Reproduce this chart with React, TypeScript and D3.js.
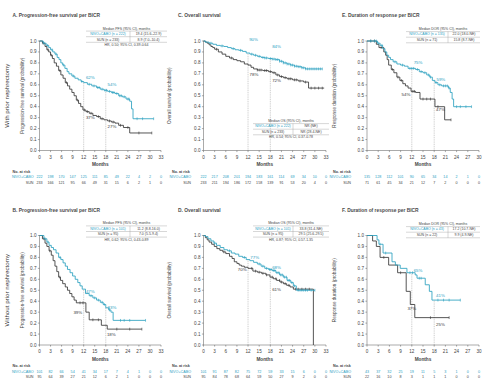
import React from "react";
import * as d3 from "d3";

const TEAL = "#2aa0bf";
const GRAY = "#383838";
const FONT = "'Liberation Sans', Arial, sans-serif";

// ---------- shared ticks ----------
const monthTicks33 = [0, 3, 6, 9, 12, 15, 18, 21, 24, 27, 30, 33];
const monthTicks30 = [0, 3, 6, 9, 12, 15, 18, 21, 24, 27, 30];
const probTicks = [0, 0.1, 0.2, 0.3, 0.4, 0.5, 0.6, 0.7, 0.8, 0.9, 1.0];
const landmarkMonths = [12, 18];

// ---------- Panel A: PFS, with prior nephrectomy ----------
const aNivoT = [0, 1, 1.8, 2.5, 3.0, 3.6, 4.2, 4.8, 5.3, 5.8, 6.3, 6.9, 7.5, 8.0, 8.8, 9.6, 10.5, 11.3, 12.0, 13.0, 14.2, 15.5, 16.5, 17.5, 18.5, 19.5, 20.5, 21.5, 22.5, 23.5, 24.5, 25.0, 25.4];
const aNivoS = [1.0, 0.98, 0.96, 0.94, 0.92, 0.90, 0.88, 0.85, 0.83, 0.80, 0.78, 0.75, 0.72, 0.70, 0.68, 0.66, 0.645, 0.63, 0.62, 0.605, 0.59, 0.575, 0.56, 0.55, 0.54, 0.53, 0.52, 0.50, 0.49, 0.47, 0.45, 0.38, 0.29];
const aNivoEnd = 31;
const aNivoCens = [1.2, 2.2, 3.4, 4.5, 6.5, 9.2, 11.5, 13.5, 14.8, 15.8, 16.2, 17.0, 17.8, 18.2, 19.0, 19.8, 20.2, 21.0, 21.8, 22.2, 23.0, 24.0, 24.3, 26.5, 28.0, 31.0];
const aSunT = [0, 0.8, 1.5, 2.0, 2.5, 3.0, 3.5, 4.0, 4.6, 5.2, 5.8, 6.4, 7.0, 7.6, 8.2, 8.8, 9.4, 10.0, 10.6, 11.2, 11.8, 12.6, 13.5, 14.5, 15.5, 16.5, 17.5, 18.5, 19.5, 20.5, 21.5, 22.8, 24.5];
const aSunS = [1.0, 0.98, 0.95, 0.92, 0.90, 0.87, 0.84, 0.80, 0.77, 0.73, 0.69, 0.66, 0.62, 0.59, 0.56, 0.53, 0.50, 0.46, 0.43, 0.40, 0.37, 0.355, 0.34, 0.32, 0.31, 0.29, 0.28, 0.27, 0.26, 0.25, 0.23, 0.21, 0.16];
const aSunEnd = 30.5;
const aSunCens = [1.0, 2.3, 3.2, 5.5, 7.3, 10.3, 12.2, 13.0, 14.0, 16.0, 17.0, 19.0, 20.0, 22.0, 24.0, 27.0, 30.5];
const aRiskNivo = [222, 198, 170, 147, 125, 111, 85, 49, 22, 4, 2, 0];
const aRiskSun = [233, 166, 121, 95, 66, 49, 31, 15, 6, 2, 1, 0];
const aPct = ["62%", "54%", "37%", "27%"];
const aTableHeader = "Median PFS (95% CI), months";
const aTableRows = [["NIVO+CABO (n = 222)", "19.4 (15.6–22.9)"], ["SUN (n = 233)", "8.9 (7.0–10.4)"]];
const aTableHR = "HR, 0.50; 95% CI, 0.39-0.64";

// ---------- Panel C: OS, with prior nephrectomy ----------
const cNivoT = [0, 0.5, 1.5, 2.5, 3.5, 4.5, 5.5, 6.5, 7.5, 8.5, 9.5, 10.5, 11.5, 12.5, 13.5, 14.5, 15.5, 16.5, 17.5, 18.5, 19.5, 20.5, 21.5, 22.5, 23.5, 24.5, 25.5, 26.5, 27.5];
const cNivoS = [1.0, 0.99, 0.98, 0.97, 0.96, 0.955, 0.95, 0.94, 0.93, 0.92, 0.915, 0.905, 0.89, 0.88, 0.87, 0.86, 0.85, 0.845, 0.84, 0.835, 0.83, 0.815, 0.80, 0.79, 0.78, 0.77, 0.765, 0.755, 0.745];
const cNivoEnd = 32;
const cNivoCens = [2, 5, 8, 10, 13, 14, 15, 16, 16.5, 17, 18, 18.5, 19, 19.5, 20, 20.5, 21, 21.5, 22, 22.5, 23, 23.5, 24, 24.5, 25, 25.5, 26, 26.5, 27, 27.5, 28, 28.5, 29, 29.5, 30, 30.5, 31, 31.5, 32];
const cSunT = [0, 0.5, 1.0, 1.5, 2.0, 2.5, 3.0, 4.0, 5.0, 6.0, 7.0, 8.0, 9.0, 10.0, 11.0, 12.0, 12.8, 13.5, 14.5, 16.0, 17.5, 18.5, 19.5, 20.5, 21.5, 22.5, 24.0, 25.5, 27.0, 28.3];
const cSunS = [1.0, 0.99, 0.98, 0.965, 0.95, 0.94, 0.925, 0.9, 0.88, 0.86, 0.845, 0.83, 0.82, 0.81, 0.79, 0.78, 0.76, 0.745, 0.735, 0.73, 0.72, 0.71, 0.69, 0.675, 0.665, 0.655, 0.645, 0.635, 0.625, 0.57];
const cSunEnd = 32.5;
const cSunCens = [3.5, 7.5, 14.5, 15, 15.5, 16.5, 17, 18, 19, 20, 21, 22, 23, 23.5, 24.5, 25, 26, 27.5, 29, 30, 31, 32];
const cRiskNivo = [222, 217, 208, 201, 194, 183, 161, 114, 69, 34, 10, 0];
const cRiskSun = [233, 211, 194, 186, 172, 158, 139, 91, 53, 20, 4, 0];
const cPct = ["90%", "84%", "78%", "72%"];
const cTableHeader = "Median OS (95% CI), months";
const cTableRows = [["NIVO+CABO (n = 222)", "NR (NE)"], ["SUN (n = 233)", "NR (28.4-NE)"]];
const cTableHR = "HR, 0.54; 95% CI, 0.37-0.78";

// ---------- Panel E: DOR, with prior nephrectomy ----------
const eNivoT = [0, 2.8, 3.5, 4.2, 4.8, 5.3, 5.8, 6.3, 7.0, 8.0, 9.0, 10.0, 11.0, 13.0, 14.0, 15.0, 16.0, 16.8, 17.5, 18.2, 19.0, 20.0, 21.8, 22.3, 22.8, 23.2];
const eNivoS = [1.0, 0.98, 0.96, 0.93, 0.90, 0.87, 0.85, 0.83, 0.81, 0.79, 0.78, 0.77, 0.75, 0.74, 0.72, 0.71, 0.69, 0.67, 0.64, 0.62, 0.60, 0.59, 0.57, 0.53, 0.47, 0.40];
const eNivoEnd = 28;
const eNivoCens = [1, 2, 2.5, 3, 4, 7.5, 9.5, 11.5, 12, 12.5, 13.5, 14.5, 15.5, 16.5, 17, 18.5, 19.5, 20.5, 21, 21.5, 22, 24, 25, 26.5, 28];
const eSunT = [0, 2.5, 3.2, 4.5, 5.0, 5.4, 5.8, 6.5, 7.2, 8.0, 8.8, 9.6, 10.3, 11.0, 11.8, 13.0, 14.2, 18.2, 20.8];
const eSunS = [1.0, 0.97, 0.94, 0.90, 0.87, 0.83, 0.78, 0.74, 0.71, 0.67, 0.64, 0.61, 0.59, 0.57, 0.54, 0.53, 0.47, 0.40, 0.28];
const eSunEnd = 22.5;
const eSunCens = [1, 2, 3.8, 6.8, 8.3, 9.2, 12.3, 12.7, 15, 16, 17, 19, 22.5];
const eRiskNivo = [135, 128, 112, 101, 90, 65, 34, 14, 2, 1, 0];
const eRiskSun = [71, 61, 45, 34, 21, 12, 7, 2, 0, 0, 0];
const ePct = ["75%", "59%", "54%", "47%"];
const eTableHeader = "Median DOR (95% CI), months";
const eTableRows = [["NIVO+CABO (n = 135)", "22.0 (18.0-NE)"], ["SUN (n = 71)", "15.8 (8.7-NE)"]];

// ---------- Panel B: PFS, without prior nephrectomy ----------
const bNivoT = [0, 1.2, 2.0, 2.6, 3.2, 3.8, 4.5, 5.2, 5.8, 6.4, 7.0, 7.6, 8.3, 9.0, 9.7, 10.4, 11.0, 11.6, 12.5, 13.5, 14.5, 15.5, 16.5, 17.3, 18.0, 18.8, 19.4, 20.0];
const bNivoS = [1.0, 0.97, 0.94, 0.91, 0.89, 0.87, 0.84, 0.80, 0.78, 0.75, 0.72, 0.69, 0.66, 0.63, 0.60, 0.57, 0.54, 0.51, 0.47, 0.45, 0.43, 0.41, 0.39, 0.37, 0.34, 0.32, 0.30, 0.225];
const bNivoEnd = 28.8;
const bNivoCens = [1.5, 2.3, 5.6, 14, 15, 16, 17, 17.6, 19, 22, 23, 24.5, 28.8];
const bSunT = [0, 0.8, 1.5, 2.0, 2.6, 3.2, 3.7, 4.2, 4.7, 5.2, 5.7, 6.3, 7.0, 7.6, 8.2, 8.8, 9.4, 10.0, 12.6, 13.5, 16.8, 18.4];
const bSunS = [1.0, 0.97, 0.93, 0.90, 0.86, 0.82, 0.77, 0.72, 0.67, 0.62, 0.59, 0.56, 0.53, 0.50, 0.47, 0.44, 0.41, 0.385, 0.30, 0.23, 0.18, 0.145];
const bSunEnd = 27.8;
const bSunCens = [1.2, 2.8, 5.5, 11, 11.8, 14.5, 16, 21, 24.5, 27.8];
const bRiskNivo = [101, 82, 66, 54, 41, 34, 17, 7, 4, 1, 0, 0];
const bRiskSun = [95, 64, 39, 27, 21, 12, 6, 2, 1, 0, 0, 0];
const bPct = ["47%", "33%", "39%", "18%"];
const bTableHeader = "Median PFS (95% CI), months";
const bTableRows = [["NIVO+CABO (n = 101)", "11.2 (8.8-16.0)"], ["SUN (n = 95)", "7.0 (5.5-9.4)"]];
const bTableHR = "HR, 0.62; 95% CI, 0.43-0.89";

// ---------- Panel D: OS, without prior nephrectomy ----------
const dNivoT = [0, 0.5, 1.2, 2.0, 2.8, 3.5, 4.5, 5.5, 6.5, 7.5, 8.5, 9.5, 10.5, 11.5, 12.5, 13.5, 14.5, 15.5, 16.5, 17.5, 18.5, 19.5, 20.5, 21.5, 22.5, 23.5, 24.2, 25.0];
const dNivoS = [1.0, 0.99, 0.97, 0.95, 0.93, 0.91, 0.89, 0.87, 0.86, 0.84, 0.83, 0.81, 0.80, 0.78, 0.77, 0.755, 0.74, 0.72, 0.70, 0.69, 0.68, 0.66, 0.64, 0.62, 0.59, 0.57, 0.54, 0.50];
const dNivoEnd = 30;
const dNivoCens = [3, 7, 11, 15, 16, 17, 17.8, 18.2, 18.8, 19.2, 19.8, 20.3, 20.8, 21.2, 21.8, 22.3, 22.8, 23.2, 23.8, 24.5, 25.5, 26, 26.5, 27, 27.5, 28, 29, 30];
const dSunT = [0, 0.5, 1.0, 1.5, 2.2, 2.9, 3.6, 4.4, 5.2, 6.0, 7.0, 7.7, 8.3, 9.0, 9.6, 10.2, 11.0, 12.0, 13.3, 14.5, 15.6, 16.8, 17.9, 18.8, 19.7, 20.6, 21.5, 22.4, 23.3, 24.2, 29.6];
const dSunS = [1.0, 0.98, 0.96, 0.94, 0.92, 0.90, 0.88, 0.865, 0.85, 0.835, 0.81, 0.79, 0.76, 0.745, 0.73, 0.72, 0.71, 0.70, 0.675, 0.665, 0.655, 0.64, 0.62, 0.605, 0.59, 0.575, 0.56, 0.545, 0.53, 0.51, 0.0];
const dSunEnd = 29.6;
const dSunCens = [5.5, 13, 14, 15, 16, 17, 18.5, 19.5, 20.5, 21, 22, 23, 24.8, 25.5, 26.5, 27.5, 28.5];
const dRiskNivo = [101, 91, 87, 82, 75, 72, 59, 33, 15, 6, 0, 0];
const dRiskSun = [95, 84, 78, 68, 64, 59, 50, 27, 9, 2, 0, 0];
const dPct = ["77%", "68%", "70%", "61%"];
const dTableHeader = "Median OS (95% CI), months";
const dTableRows = [["NIVO+CABO (n = 101)", "33.8 (31.4-NE)"], ["SUN (n = 95)", "29.5 (25.6-29.5)"]];
const dTableHR = "HR, 0.87; 95% CI, 0.57-1.35";

// ---------- Panel F: DOR, without prior nephrectomy ----------
const fNivoT = [0, 2.7, 3.2, 4.3, 6.7, 7.6, 8.9, 10.7, 12.9, 13.4, 15.6, 16.7, 17.4];
const fNivoS = [1.0, 0.96, 0.92, 0.84, 0.76, 0.73, 0.70, 0.66, 0.64, 0.61, 0.55, 0.49, 0.41];
const fNivoEnd = 25;
const fNivoCens = [3.5, 5, 11.5, 12.2, 14, 14.5, 19, 20.5, 22, 25];
const fSunT = [0, 1.5, 2.5, 3.5, 5.8, 8.2, 10.5, 11.6, 12.8];
const fSunS = [1.0, 0.95, 0.90, 0.80, 0.73, 0.66, 0.49, 0.37, 0.25];
const fSunEnd = 22;
const fSunCens = [4.5, 9, 17, 22];
const fRiskNivo = [43, 37, 32, 25, 19, 11, 5, 3, 1, 0, 0];
const fRiskSun = [22, 16, 10, 8, 3, 1, 1, 1, 0, 0, 0];
const fPct = ["65%", "41%", "37%", "25%"];
const fTableHeader = "Median DOR (95% CI), months";
const fTableRows = [["NIVO+CABO (n = 43)", "17.2 (10.7-NE)"], ["SUN (n = 22)", "9.9 (4.9-NE)"]];

// ---------- layout ----------
const COLS = [
  { x0: 39.5, x1: 161, titleX: 12.5, ylabX: 22.5, riskLbl: 33.5, noRisk: 12.5 },
  { x0: 203.5, x1: 326, titleX: 178, ylabX: 169.5, riskLbl: 191, noRisk: 172 },
  { x0: 367, x1: 479, titleX: 342, ylabX: 334, riskLbl: 351, noRisk: 333 },
];
const ROWS = [
  { yTop: 41, yBot: 150.5, titleY: 15.5, side: "With prior nephrectomy" },
  { yTop: 235.5, yBot: 345, titleY: 210, side: "Without prior nephrectomy" },
];

type Curve = { t: number[]; s: number[]; end: number; cens: number[] };
type Pct = { text: string; m: number; p: number; color: string; anchor: string };
type Table = { header: string; rows: string[][]; hr?: string; x: number; w: number; sep: number; y: number };
type PanelDef = {
  col: number; row: number; title: string; ylabel: string; maxM: number; ticks: number[];
  nivo: Curve; sun: Curve; riskNivo: number[]; riskSun: number[]; table: Table; pct: Pct[];
};

const survAt = (c: Curve, x: number) => {
  let v = c.s[0];
  for (let i = 0; i < c.t.length; i++) if (c.t[i] <= x) v = c.s[i];
  return v;
};

const PANELS: PanelDef[] = [
  {
    col: 0, row: 0, title: "A. Progression-free survival per BICR", ylabel: "Progression-free survival (probability)",
    maxM: 33, ticks: monthTicks33,
    nivo: { t: aNivoT, s: aNivoS, end: aNivoEnd, cens: aNivoCens },
    sun: { t: aSunT, s: aSunS, end: aSunEnd, cens: aSunCens },
    riskNivo: aRiskNivo, riskSun: aRiskSun,
    table: { header: aTableHeader, rows: aTableRows, hr: aTableHR, x: 86, w: 81, sep: 130, y: 28.5 },
    pct: [
      { text: aPct[0], m: 12.6, p: 0.665, color: TEAL, anchor: "start" },
      { text: aPct[1], m: 18.5, p: 0.6, color: TEAL, anchor: "start" },
      { text: aPct[2], m: 12.6, p: 0.3, color: GRAY, anchor: "start" },
      { text: aPct[3], m: 18.5, p: 0.22, color: GRAY, anchor: "start" },
    ],
  },
  {
    col: 1, row: 0, title: "C. Overall survival", ylabel: "Overall survival (probability)",
    maxM: 33, ticks: monthTicks33,
    nivo: { t: cNivoT, s: cNivoS, end: cNivoEnd, cens: cNivoCens },
    sun: { t: cSunT, s: cSunS, end: cSunEnd, cens: cSunCens },
    riskNivo: cRiskNivo, riskSun: cRiskSun,
    table: { header: cTableHeader, rows: cTableRows, hr: cTableHR, x: 253, w: 76, sep: 293, y: 121 },
    pct: [
      { text: cPct[0], m: 12.3, p: 1.015, color: TEAL, anchor: "start" },
      { text: cPct[1], m: 18.5, p: 0.95, color: TEAL, anchor: "start" },
      { text: cPct[2], m: 12.4, p: 0.695, color: GRAY, anchor: "start" },
      { text: cPct[3], m: 18.5, p: 0.64, color: GRAY, anchor: "start" },
    ],
  },
  {
    col: 2, row: 0, title: "E. Duration of response per BICR", ylabel: "Response duration (probability)",
    maxM: 30, ticks: monthTicks30,
    nivo: { t: eNivoT, s: eNivoS, end: eNivoEnd, cens: eNivoCens },
    sun: { t: eSunT, s: eSunS, end: eSunEnd, cens: eSunCens },
    riskNivo: eRiskNivo, riskSun: eRiskSun,
    table: { header: eTableHeader, rows: eTableRows, x: 406, w: 74, sep: 448, y: 29 },
    pct: [
      { text: ePct[0], m: 12.5, p: 0.8, color: TEAL, anchor: "start" },
      { text: ePct[1], m: 18.6, p: 0.65, color: TEAL, anchor: "start" },
      { text: ePct[2], m: 11.6, p: 0.51, color: GRAY, anchor: "end" },
      { text: ePct[3], m: 18.5, p: 0.375, color: GRAY, anchor: "start" },
    ],
  },
  {
    col: 0, row: 1, title: "B. Progression-free survival per BICR", ylabel: "Progression-free survival (probability)",
    maxM: 33, ticks: monthTicks33,
    nivo: { t: bNivoT, s: bNivoS, end: bNivoEnd, cens: bNivoCens },
    sun: { t: bSunT, s: bSunS, end: bSunEnd, cens: bSunCens },
    riskNivo: bRiskNivo, riskSun: bRiskSun,
    table: { header: bTableHeader, rows: bTableRows, hr: bTableHR, x: 86, w: 81, sep: 130, y: 223.3 },
    pct: [
      { text: bPct[0], m: 12.6, p: 0.49, color: TEAL, anchor: "start" },
      { text: bPct[1], m: 18.5, p: 0.345, color: TEAL, anchor: "start" },
      { text: bPct[2], m: 11.6, p: 0.3, color: GRAY, anchor: "end" },
      { text: bPct[3], m: 18.3, p: 0.1, color: GRAY, anchor: "start" },
    ],
  },
  {
    col: 1, row: 1, title: "D. Overall survival", ylabel: "Overall survival (probability)",
    maxM: 33, ticks: monthTicks33,
    nivo: { t: dNivoT, s: dNivoS, end: dNivoEnd, cens: dNivoCens },
    sun: { t: dSunT, s: dSunS, end: dSunEnd, cens: dSunCens },
    riskNivo: dRiskNivo, riskSun: dRiskSun,
    table: { header: dTableHeader, rows: dTableRows, hr: dTableHR, x: 253, w: 76, sep: 293, y: 223.3 },
    pct: [
      { text: dPct[0], m: 12.6, p: 0.8, color: TEAL, anchor: "start" },
      { text: dPct[1], m: 18.5, p: 0.71, color: TEAL, anchor: "start" },
      { text: dPct[2], m: 11.6, p: 0.685, color: GRAY, anchor: "end" },
      { text: dPct[3], m: 18.5, p: 0.51, color: GRAY, anchor: "start" },
    ],
  },
  {
    col: 2, row: 1, title: "F. Duration of response per BICR", ylabel: "Response duration (probability)",
    maxM: 30, ticks: monthTicks30,
    nivo: { t: fNivoT, s: fNivoS, end: fNivoEnd, cens: fNivoCens },
    sun: { t: fSunT, s: fSunS, end: fSunEnd, cens: fSunCens },
    riskNivo: fRiskNivo, riskSun: fRiskSun,
    table: { header: fTableHeader, rows: fTableRows, x: 406, w: 74, sep: 448, y: 224 },
    pct: [
      { text: fPct[0], m: 12.5, p: 0.68, color: TEAL, anchor: "start" },
      { text: fPct[1], m: 18.5, p: 0.45, color: TEAL, anchor: "start" },
      { text: fPct[2], m: 12, p: 0.33, color: GRAY, anchor: "middle" },
      { text: fPct[3], m: 18.5, p: 0.19, color: GRAY, anchor: "start" },
    ],
  },
];

const TableView = ({ tb }: { tb: Table }) => {
  const fs = 3.5;
  const leftC = (tb.x + tb.sep) / 2;
  const rightC = (tb.sep + tb.x + tb.w) / 2;
  const y = tb.y;
  const lineC = "#9a9a9a";
  return (
    <g fontFamily={FONT} fontSize={fs} dominantBaseline="central">
      <text x={tb.x + tb.w / 2} y={y} textAnchor="middle" fill="#444">{tb.header}</text>
      <line x1={tb.x} x2={tb.x + tb.w} y1={y + 2.6} y2={y + 2.6} stroke={lineC} strokeWidth={0.4} />
      <text x={leftC} y={y + 5.4} textAnchor="middle" fill={TEAL}>{tb.rows[0][0]}</text>
      <text x={rightC} y={y + 5.4} textAnchor="middle" fill="#444">{tb.rows[0][1]}</text>
      <line x1={tb.x} x2={tb.x + tb.w} y1={y + 8.2} y2={y + 8.2} stroke={lineC} strokeWidth={0.4} />
      <text x={leftC} y={y + 11} textAnchor="middle" fill="#444">{tb.rows[1][0]}</text>
      <text x={rightC} y={y + 11} textAnchor="middle" fill="#444">{tb.rows[1][1]}</text>
      <line x1={tb.x} x2={tb.x + tb.w} y1={y + 13.8} y2={y + 13.8} stroke={lineC} strokeWidth={0.4} />
      <line x1={tb.sep} x2={tb.sep} y1={y + 2.6} y2={y + 13.8} stroke={lineC} strokeWidth={0.4} />
      {tb.hr && <text x={tb.x + tb.w / 2} y={y + 16.4} textAnchor="middle" fill="#444">{tb.hr}</text>}
    </g>
  );
};

const Panel = ({ p }: { p: PanelDef }) => {
  const C = COLS[p.col];
  const R = ROWS[p.row];
  const x = d3.scaleLinear().domain([0, p.maxM]).range([C.x0, C.x1]);
  const y = d3.scaleLinear().domain([0, 1]).range([R.yBot, R.yTop]);
  const line = d3.line<[number, number]>().x((d) => x(d[0])).y((d) => y(d[1])).curve(d3.curveStepAfter);
  const pathOf = (c: Curve) => {
    const pts: [number, number][] = c.t.map((t, i) => [t, c.s[i]] as [number, number]);
    pts.push([c.end, c.s[c.s.length - 1]]);
    return line(pts) || "";
  };
  const axisC = "#555";
  const tickFs = 4.6;
  const curves = [
    { c: p.sun, color: GRAY },
    { c: p.nivo, color: TEAL },
  ];
  return (
    <g>
      <text x={C.titleX} y={R.titleY} fontFamily={FONT} fontSize={4.9} fontWeight={700} fill="#4a4a4a" dominantBaseline="central">{p.title}</text>
      <text transform={`translate(${C.ylabX},${(R.yTop + R.yBot) / 2}) rotate(-90)`} textAnchor="middle" dominantBaseline="central" fontFamily={FONT} fontSize={4.6} fill="#444">{p.ylabel}</text>
      {landmarkMonths.map((m) => {
        const top = Math.max(survAt(p.nivo, m), survAt(p.sun, m));
        return <line key={m} x1={x(m)} x2={x(m)} y1={y(0)} y2={y(top)} stroke="#8a8a8a" strokeWidth={0.45} strokeDasharray="1,0.8" />;
      })}
      <line x1={C.x0} x2={C.x0} y1={y(0)} y2={y(1)} stroke={axisC} strokeWidth={0.5} />
      <line x1={C.x0} x2={x(p.maxM)} y1={y(0)} y2={y(0)} stroke={axisC} strokeWidth={0.5} />
      {probTicks.map((v) => (
        <g key={v}>
          <line x1={C.x0 - 1.6} x2={C.x0} y1={y(v)} y2={y(v)} stroke={axisC} strokeWidth={0.5} />
          <text x={C.x0 - 3} y={y(v)} textAnchor="end" dominantBaseline="central" fontFamily={FONT} fontSize={tickFs} fill="#444">{v.toFixed(1)}</text>
        </g>
      ))}
      {p.ticks.map((m) => (
        <g key={m}>
          <line x1={x(m)} x2={x(m)} y1={y(0)} y2={y(0) + 1.6} stroke={axisC} strokeWidth={0.5} />
          <text x={x(m)} y={y(0) + 6.5} textAnchor="middle" dominantBaseline="central" fontFamily={FONT} fontSize={tickFs} fill="#444">{m}</text>
        </g>
      ))}
      <text x={(C.x0 + x(p.maxM)) / 2} y={y(0) + 14} textAnchor="middle" dominantBaseline="central" fontFamily={FONT} fontSize={4.7} fontWeight={700} fill="#444">Months</text>
      {curves.map(({ c, color }, i) => (
        <g key={i}>
          <path d={pathOf(c)} fill="none" stroke={color} strokeWidth={0.85} />
          {c.cens.map((t, j) => (
            <line key={j} x1={x(t)} x2={x(t)} y1={y(survAt(c, t)) - 1.4} y2={y(survAt(c, t)) + 1.4} stroke={color} strokeWidth={0.6} />
          ))}
        </g>
      ))}
      {p.pct.map((a, i) => (
        <text key={i} x={x(a.m)} y={y(a.p)} textAnchor={a.anchor as any} dominantBaseline="central" fontFamily={FONT} fontSize={4.4} fill={a.color}>{a.text}</text>
      ))}
      <TableView tb={p.table} />
      <g fontFamily={FONT} fontSize={3.7} dominantBaseline="central">
        <text x={C.noRisk} y={y(0) + 21.3} fill="#444" fontWeight={700}>No. at risk</text>
        <text x={C.riskLbl} y={y(0) + 26.6} fill={TEAL} textAnchor="end">NIVO+CABO</text>
        <text x={C.riskLbl} y={y(0) + 32.2} fill="#444" textAnchor="end">SUN</text>
        {p.riskNivo.map((v, i) => (
          <text key={"n" + i} x={x(p.ticks[i])} y={y(0) + 26.6} fill={TEAL} textAnchor="middle">{v}</text>
        ))}
        {p.riskSun.map((v, i) => (
          <text key={"s" + i} x={x(p.ticks[i])} y={y(0) + 32.2} fill="#444" textAnchor="middle">{v}</text>
        ))}
      </g>
    </g>
  );
};

export default function App() {
  return (
    <svg width={492} height={386} viewBox="0 0 492 386" style={{ position: "absolute", left: 0, top: 0, background: "#fff" }}>
      <rect x={0} y={0} width={492} height={386} fill="#fff" />
      {ROWS.map((r, i) => (
        <text key={i} transform={`translate(6,${(r.yTop + r.yBot) / 2}) rotate(-90)`} textAnchor="middle" dominantBaseline="central" fontFamily={FONT} fontSize={6.2} fill="#333">{r.side}</text>
      ))}
      {PANELS.map((p, i) => <Panel key={i} p={p} />)}
    </svg>
  );
}
